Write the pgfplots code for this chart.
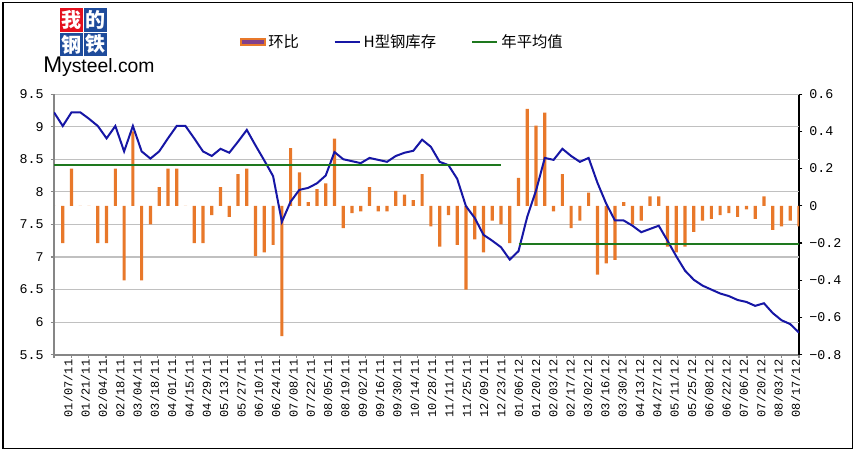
\documentclass[border=0pt]{standalone}
\usepackage{pgfplots}
\usepackage{pgfplotstable}
\pgfplotsset{compat=1.18}
\usepackage{fontspec}
\setmainfont{Liberation Sans}
\newfontfamily\cjk{Noto Sans CJK SC}
\newfontfamily\numfont{Liberation Mono}
\definecolor{barorange}{RGB}{232,120,42}
\definecolor{barpurple}{RGB}{128,64,140}
\definecolor{invblue}{RGB}{22,22,165}
\definecolor{avggreen}{RGB}{30,120,30}
\definecolor{gridgray}{RGB}{192,192,192}
\definecolor{axisgray}{RGB}{134,134,134}
\definecolor{logored}{RGB}{228,16,30}
\definecolor{logoblue}{RGB}{30,75,155}
\pgfplotsset{
  shortline/.style={legend image code/.code={\draw[##1] (0pt,0pt) -- (19pt,0pt);}},
  barlegend/.style={legend image code/.code={\draw[fill=barpurple, draw=barorange, line width=1.5pt] (0pt,-2.5pt) rectangle (18pt,2.5pt);}},
}

\pgfplotstableread{
i inv chg
0 9.22 0
1 9.01 -0.20
2 9.22 0.20
3 9.22 0
4 9.12 0
5 9.01 -0.20
6 8.82 -0.20
7 9.01 0.20
8 8.62 -0.40
9 9.01 0.40
10 8.62 -0.40
11 8.51 -0.10
12 8.62 0.10
13 8.82 0.20
14 9.01 0.20
15 9.01 0
16 8.82 -0.20
17 8.62 -0.20
18 8.55 -0.05
19 8.66 0.10
20 8.60 -0.06
21 8.77 0.17
22 8.95 0.20
23 8.71 -0.27
24 8.48 -0.25
25 8.24 -0.21
26 7.54 -0.70
27 7.85 0.31
28 8.03 0.18
29 8.06 0.02
30 8.13 0.09
31 8.25 0.12
32 8.61 0.36
33 8.50 -0.12
34 8.47 -0.04
35 8.44 -0.03
36 8.52 0.10
37 8.49 -0.03
38 8.46 -0.03
39 8.55 0.08
40 8.60 0.06
41 8.63 0.03
42 8.80 0.17
43 8.69 -0.11
44 8.46 -0.22
45 8.41 -0.05
46 8.20 -0.21
47 7.78 -0.45
48 7.60 -0.18
49 7.34 -0.25
50 7.25 -0.08
51 7.15 -0.10
52 6.96 -0.20
53 7.09 0.15
54 7.62 0.52
55 8.02 0.43
56 8.52 0.50
57 8.49 -0.03
58 8.66 0.17
59 8.55 -0.12
60 8.46 -0.08
61 8.52 0.07
62 8.14 -0.37
63 7.82 -0.31
64 7.56 -0.29
65 7.56 0.02
66 7.48 -0.10
67 7.38 -0.08
68 7.43 0.05
69 7.48 0.05
70 7.25 -0.22
71 7.01 -0.25
72 6.79 -0.22
73 6.65 -0.14
74 6.56 -0.08
75 6.50 -0.07
76 6.44 -0.05
77 6.40 -0.04
78 6.34 -0.06
79 6.31 -0.02
80 6.25 -0.07
81 6.29 0.05
82 6.14 -0.13
83 6.03 -0.11
84 5.97 -0.08
85 5.84 -0.11
}\data

\begin{document}
\begin{tikzpicture}
\begin{scope}[x=0.75pt,y=0.75pt]
\useasboundingbox (0,0) rectangle (857,453);
\draw[black, line width=0.9pt] (3,4.7) rectangle (852.3,450.3);
% logo
\fill[logored] (60,445) rectangle (83,421);
\fill[logoblue] (84,445) rectangle (107,421);
\fill[logoblue] (60,420) rectangle (83,397);
\fill[logoblue] (84,420) rectangle (107,397);
\node[white, font=\cjk\bfseries\fontsize{15}{15}\selectfont, inner sep=0pt] at (71.5,433) {我};
\node[white, font=\cjk\bfseries\fontsize{15}{15}\selectfont, inner sep=0pt] at (95.5,433) {的};
\node[white, font=\cjk\bfseries\fontsize{15}{15}\selectfont, inner sep=0pt] at (71.5,408.5) {钢};
\node[white, font=\cjk\bfseries\fontsize{15}{15}\selectfont, inner sep=0pt] at (95.5,408.5) {铁};
\node[anchor=base west, inner sep=0pt, font=\fontsize{14.5}{15}\selectfont] at (43,380) {{\fontsize{17}{17}\selectfont M}ysteel.com};
\end{scope}

% bars on right axis (with grid)
\begin{axis}[
  at={(40.5pt,73.7pt)}, anchor=south west,
  scale only axis, width=558.75pt, height=195.5pt,
  xmin=0, xmax=86, ymin=-0.8, ymax=0.6,
  axis x line*=bottom, axis y line*=right,
  x axis line style={axisgray, line width=1.2pt, -},
  y axis line style={black, line width=0.8pt, -},
  tick align=outside, major tick length=2.5pt,
  xtick={0,2,...,86},
  x tick label as interval,
  xticklabels={01/07/11,01/21/11,02/04/11,02/18/11,03/04/11,03/18/11,04/01/11,04/15/11,04/29/11,05/13/11,05/27/11,06/10/11,06/24/11,07/08/11,07/22/11,08/05/11,08/19/11,09/02/11,09/16/11,09/30/11,10/14/11,10/28/11,11/11/11,11/25/11,12/09/11,12/23/11,01/06/12,01/20/12,02/03/12,02/17/12,03/02/12,03/16/12,03/30/12,04/13/12,04/27/12,05/11/12,05/25/12,06/08/12,06/22/12,07/06/12,07/20/12,08/03/12,08/17/12},
  xticklabel style={rotate=90, anchor=east, font=\numfont\fontsize{9}{10}\selectfont, inner sep=1pt, yshift=-4pt},
  xtick style={axisgray, line width=0.8pt},
  ytick={-0.8,-0.6,-0.4,-0.2,0,0.2,0.4,0.6},
  yticklabels={−0.8,−0.6,−0.4,−0.2,0,0.2,0.4,0.6},
  yticklabel style={font=\numfont\fontsize{10}{12}\selectfont, anchor=west, inner sep=0pt, xshift=5pt},
  ytick style={black, line width=0.8pt},
  extra y ticks={-0.625,-0.45,-0.275,-0.1,0.075,0.25,0.425,0.6},
  extra y tick labels={},
  extra y tick style={grid=major, major tick length=0pt},
  grid style={gridgray, line width=0.8pt},
]
\addplot[ybar, bar width=2.4pt, fill=barorange, draw=none] table[x expr=\thisrow{i}*86/85, y=chg]{\data};
\end{axis}

% inventory line on left axis
\begin{axis}[
  at={(40.5pt,73.7pt)}, anchor=south west,
  scale only axis, width=558.75pt, height=195.5pt,
  xmin=0, xmax=86, ymin=5.5, ymax=9.5,
  axis x line=none, axis y line*=left,
  y axis line style={axisgray, line width=1.2pt, -},
  tick align=outside, major tick length=2.5pt,
  ytick={5.5,6,6.5,7,7.5,8,8.5,9,9.5},
  yticklabels={5.5,6,6.5,7,7.5,8,8.5,9,9.5},
  yticklabel style={font=\numfont\fontsize{10}{12}\selectfont, anchor=east, inner sep=0pt, xshift=-5pt},
  ytick style={axisgray, line width=0.8pt},
  legend style={at={(axis description cs:0.4678,1.1995)}, anchor=center, draw=none, fill=none,
    legend columns=3, font=\cjk\fontsize{11.5}{13}\selectfont,
    /tikz/every even column/.append style={column sep=24pt}},
  legend cell align=left,
]
\addlegendimage{barlegend}
\addlegendentry{环比}
\addplot[invblue, line width=1.5pt, shortline] table[x expr=\thisrow{i}*86/85, y=inv]{\data};
\addlegendentry{H型钢库存}
\addplot[avggreen, line width=2pt, shortline] coordinates {(0,8.41) (51.6,8.41)};
\addlegendentry{年平均值}
\addplot[avggreen, line width=2pt, forget plot] coordinates {(53.62,7.2) (86,7.2)};
\end{axis}
\end{tikzpicture}
\end{document}
